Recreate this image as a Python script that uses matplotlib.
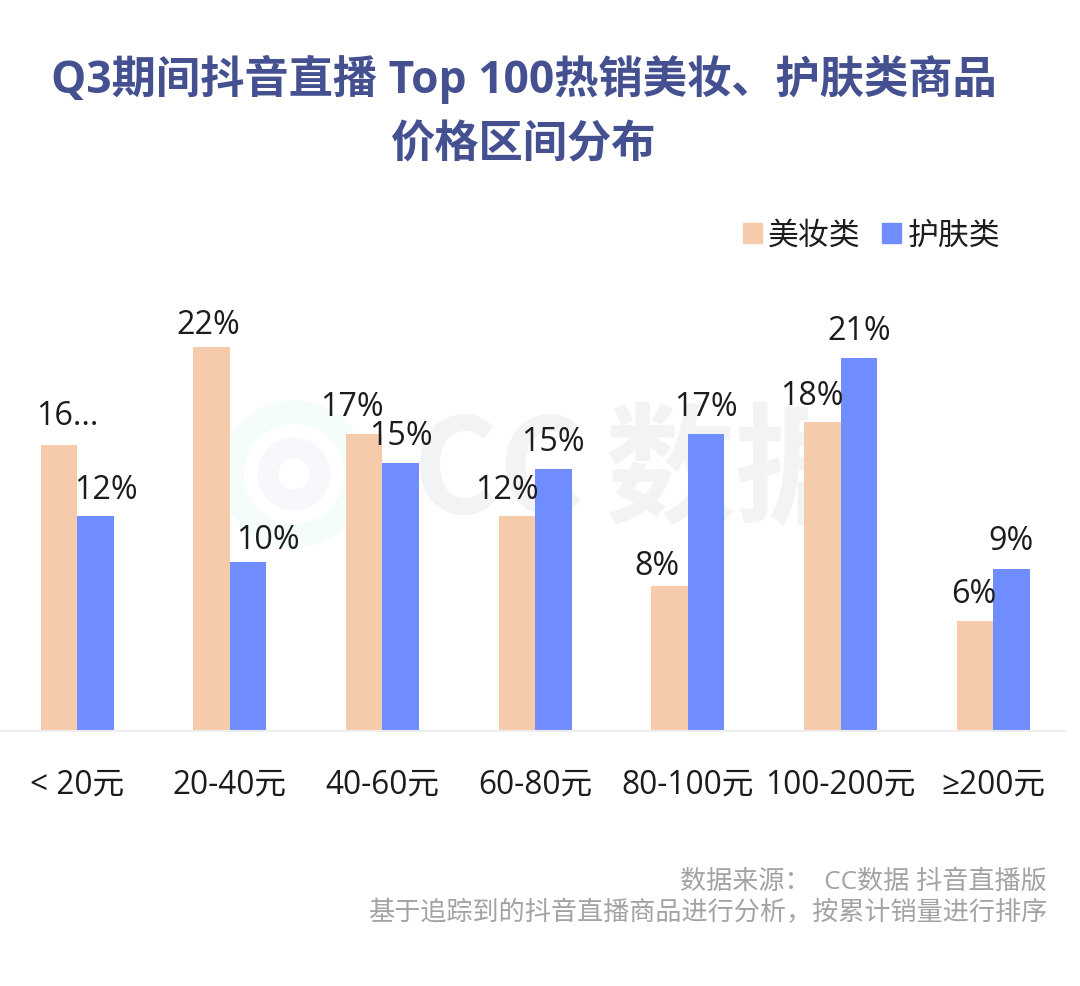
import matplotlib
matplotlib.use('Agg')
import matplotlib.pyplot as plt
from matplotlib.patches import Circle, Rectangle

categories = ['< 20元', '20-40元', '40-60元', '60-80元', '80-100元', '100-200元', '≥200元']
makeup = [16.4, 22.0, 17.0, 12.3, 8.3, 17.7, 6.3]
skincare = [12.3, 9.7, 15.35, 15.0, 17.0, 21.35, 9.3]
makeup_labels = ['16...', '22%', '17%', '12%', '8%', '18%', '6%']
skincare_labels = ['12%', '10%', '15%', '15%', '17%', '21%', '9%']
series_names = ['美妆类', '护肤类']
title_lines = ['Q3期间抖音直播 Top 100热销美妆、护肤类商品', '价格区间分布']
source_lines = ['数据来源：  CC数据 抖音直播版', '基于追踪到的抖音直播商品进行分析，按累计销量进行排序']

# nudges of the value labels, in pixels
makeup_dx = [9, -3, -12, -10, -13, -10, -1]
skincare_dx = [11, 20, 0, 0, 0, 0, 0]
makeup_dy = [3.5, -3.5, 1.5, 0.5, -5.5, 0.5, 1.5]
skincare_dy = [0.5, -3.5, 1.5, 1.5, 1.5, 1.5, 1.5]

FONTS = ['Open Sans', 'Noto Sans CJK SC', 'DejaVu Sans']
plt.rcParams['font.family'] = FONTS
W, H = 1080, 987
fig = plt.figure(figsize=(W/100, H/100), dpi=100, facecolor='white')

bg = fig.add_axes([0, 0, 1, 1], zorder=0)
bg.set_xlim(0, W); bg.set_ylim(H, 0); bg.axis('off')
bg.add_patch(Circle((294, 475), 62, fill=False, ec='#f5fcfc', lw=17))
bg.add_patch(Circle((294, 475), 26, fill=False, ec='#f7f8fc', lw=15))
clip = Rectangle((0, 0), 808, H, transform=bg.transData)
for x, word in zip([413, 604], ['CC', '数据']):
    wm = bg.text(x, 475, word, fontsize=94, fontweight='bold', color='#f2f3f5', ha='left', va='center',
                 family=['Noto Sans CJK SC'])
    wm.set_clip_path(clip)
    wm.set_clip_on(True)

ax = fig.add_axes([0/W, 1-732/H, 1065/W, 420/H], zorder=1)
ax.patch.set_alpha(0)
step = 152.7
w = 36.5
x0 = 77
xs = [(x0 + i*step) for i in range(len(categories))]
pal = ['#f6cbac', '#6f8dff']
ink = '#1c1c1c'
ax.bar([x-w/2 for x in xs], makeup, w, color=pal[0])
ax.bar([x+w/2 for x in xs], skincare, w, color=pal[1])
ax.set_xlim(0, 1065)
ax.set_ylim(0, 420/17.45)
for s in ['top', 'left', 'right']:
    ax.spines[s].set_visible(False)
ax.spines['bottom'].set_color('#eeeeee')
ax.spines['bottom'].set_linewidth(1.5)
ax.set_yticks([])
ax.set_xticks(xs)
ax.set_xticklabels(categories, fontsize=22.8, color=ink)
ax.tick_params(axis='x', length=0, pad=26)
for vals, labels, dxs, dys, sign in [(makeup, makeup_labels, makeup_dx, makeup_dy, -1),
                                     (skincare, skincare_labels, skincare_dx, skincare_dy, 1)]:
    for x, v, l, dx, dy in zip(xs, vals, labels, dxs, dys):
        ax.annotate(l, (x + sign*w/2, v), xytext=(dx*0.72, 7 + dy*0.72), textcoords='offset points',
                    ha='center', va='bottom', fontsize=23.2, color=ink)

for y, line in zip([79, 146], title_lines):
    fig.text(524/W, 1-y/H, line, fontsize=31.9, fontweight='bold', color='#44508f', ha='center', va='center')

leg = ax.legend(handles=[plt.Rectangle((0,0),1,1,color=c) for c in pal], labels=series_names,
                loc='center right', bbox_to_anchor=(1000/1065, (732-237)/420), bbox_transform=ax.transAxes,
                ncol=2, frameon=False, fontsize=22.2, handlelength=0.62, handleheight=0.62,
                handletextpad=0.2, columnspacing=0.7, borderpad=0, borderaxespad=0)
for t in leg.get_texts():
    t.set_color(ink)

for y, line in zip([882, 913], source_lines):
    fig.text(1047/W, 1-y/H, line, fontsize=18.8, color='#a3a3a3', ha='right', va='center')

fig.savefig('out.png', dpi=100)
